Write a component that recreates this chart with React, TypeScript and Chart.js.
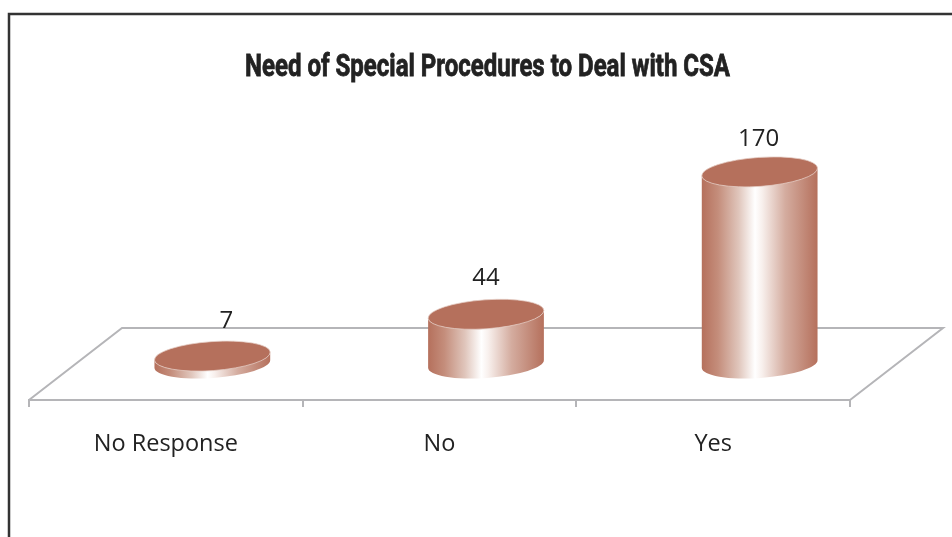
import React, { useEffect, useRef } from "react";
import { Chart, registerables } from "chart.js";

Chart.register(...registerables);

const categories = ["No Response", "No", "Yes"];
const values = [7, 44, 170];
const chartTitle = "Need of Special Procedures to Deal with CSA";

const DEPTH_X = 93;
const DEPTH_Y = 72;
const TOP_COLOR = "#b5705c";
const FLOOR_COLOR = "#b5b5b8";
const TILT = (-4 * Math.PI) / 180;
const RY = 14;
const LABEL_NUDGE_X = [14, 0, -1];
const LABEL_NUDGE_Y = [-35, -36, -33];

const cylinderPlugin = {
  id: "cylinders",
  beforeDatasetsDraw(chart: any) {
    const { ctx, chartArea: a } = chart;
    ctx.save();
    ctx.strokeStyle = FLOOR_COLOR;
    ctx.lineWidth = 2;
    ctx.beginPath();
    ctx.moveTo(a.left, a.bottom);
    ctx.lineTo(a.left + DEPTH_X, a.bottom - DEPTH_Y);
    ctx.lineTo(a.right + DEPTH_X, a.bottom - DEPTH_Y);
    ctx.lineTo(a.right, a.bottom);
    ctx.stroke();
    ctx.restore();
  },
  afterDatasetsDraw(chart: any) {
    const { ctx } = chart;
    const meta = chart.getDatasetMeta(0);
    meta.data.forEach((bar: any, i: number) => {
      const cx = bar.x + DEPTH_X / 2;
      const topY = bar.y - DEPTH_Y / 2;
      const baseY = bar.base - DEPTH_Y / 2;
      const rx = bar.width / 2;
      const left = cx - rx;
      const right = cx + rx;
      const g = ctx.createLinearGradient(left, 0, right, 0);
      g.addColorStop(0, "#b5705c");
      g.addColorStop(0.14, "#c48d7b");
      g.addColorStop(0.32, "#e0c6bc");
      g.addColorStop(0.46, "#ffffff");
      g.addColorStop(0.52, "#f8f0ed");
      g.addColorStop(0.72, "#d4ac9f");
      g.addColorStop(1, "#b5705c");
      ctx.save();
      ctx.fillStyle = g;
      ctx.beginPath();
      ctx.ellipse(cx, baseY, rx, RY, TILT, 0, Math.PI);
      ctx.ellipse(cx, topY, rx, RY, TILT, Math.PI, 0, true);
      ctx.closePath();
      ctx.fill();
      ctx.fillStyle = TOP_COLOR;
      ctx.strokeStyle = "#e6cfc7";
      ctx.lineWidth = 0.75;
      ctx.beginPath();
      ctx.ellipse(cx, topY, rx, RY + 0.5, TILT, 0, Math.PI * 2);
      ctx.fill();
      ctx.stroke();

      ctx.fillStyle = "#222222";
      ctx.font = '24px "Open Sans"';
      ctx.textAlign = "center";
      ctx.textBaseline = "middle";
      ctx.fillText(String(values[i]), cx + LABEL_NUDGE_X[i], topY + LABEL_NUDGE_Y[i]);
      ctx.restore();
    });

    ctx.save();
    ctx.strokeStyle = "#333333";
    ctx.lineWidth = 2.5;
    ctx.beginPath();
    ctx.moveTo(9, chart.height);
    ctx.lineTo(9, 14);
    ctx.lineTo(chart.width, 14);
    ctx.stroke();

    ctx.fillStyle = "#222222";
    ctx.strokeStyle = "#222222";
    ctx.lineWidth = 0.8;
    ctx.font = 'bold 31px "Roboto", sans-serif';
    ctx.textBaseline = "middle";
    ctx.textAlign = "center";
    const w = ctx.measureText(chartTitle).width;
    ctx.translate(487.5, 68);
    ctx.scale(485 / w, 1);
    ctx.fillText(chartTitle, 0, 0);
    ctx.strokeText(chartTitle, 0, 0);
    ctx.restore();
  },
};

export default function App() {
  const ref = useRef<HTMLCanvasElement>(null);
  useEffect(() => {
    document.body.style.margin = "0";
    const chart = new Chart(ref.current!, {
      type: "bar",
      data: {
        labels: categories,
        datasets: [
          {
            label: "Responses",
            data: values,
            backgroundColor: "rgba(0,0,0,0)",
            categoryPercentage: 1,
            barPercentage: 0.424,
          },
        ],
      },
      options: {
        animation: false,
        responsive: false,
        devicePixelRatio: 1,
        layout: { padding: { left: 29, right: 102, top: 174, bottom: 0 } },
        plugins: { legend: { display: false }, tooltip: { enabled: false } },
        scales: {
          x: {
            afterFit: (s: any) => {
              s.height = 137;
            },
            grid: { drawOnChartArea: false, color: FLOOR_COLOR, tickLength: 7, lineWidth: 2 },
            border: { color: FLOOR_COLOR, width: 2 },
            ticks: {
              color: "#222222",
              font: { family: '"Open Sans"', size: 23.5 },
              padding: 23,
              maxRotation: 0,
            },
          },
          y: { display: false, min: 0, max: 200 },
        },
      },
      plugins: [cylinderPlugin],
    } as any);
    return () => chart.destroy();
  }, []);
  return <canvas ref={ref} width={952} height={537} style={{ display: "block" }} />;
}
